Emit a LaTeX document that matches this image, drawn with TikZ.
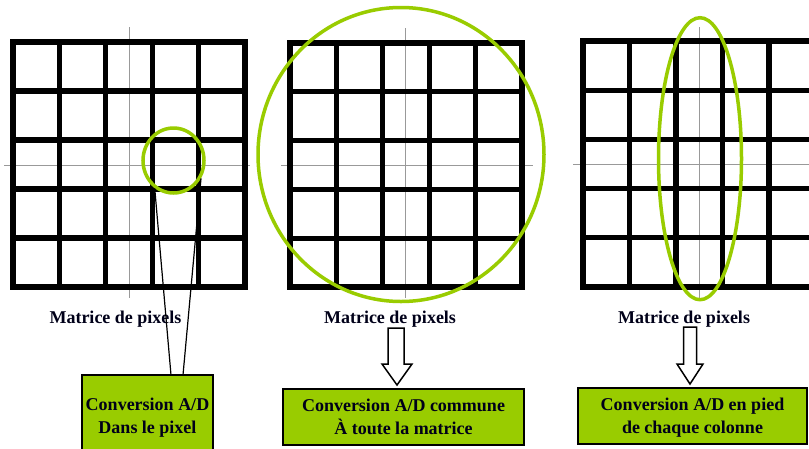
\documentclass[tikz,border=0pt]{standalone}
\usepackage{fontspec}
\setmainfont{Liberation Serif}
\usetikzlibrary{shapes.geometric,calc}
\definecolor{lime}{HTML}{99CC00}
\begin{document}
\begin{tikzpicture}[x=1pt,y=-1pt,
  gridline/.style={line width=5.3pt,line cap=rect},
  cross/.style={draw=black!40,line width=0.8pt},
  ring/.style={ellipse,draw=lime,line width=3.5pt,inner sep=0pt},
  lbl/.style={font=\bfseries\fontsize{18}{22}\selectfont,inner sep=0pt,text=black!90!blue},
  greenbox/.style={draw=black,line width=2pt,fill=lime,font=\bfseries\fontsize{18}{23}\selectfont,align=center,inner sep=0pt,text=black!90!blue},
  hollow/.style={draw=black,line width=1.5pt,fill=white,line join=miter},
  link/.style={draw=black,line width=1.2pt}]
\useasboundingbox (0,0) rectangle (809,448);
\clip (0,0) rectangle (809,448);
\fill[white] (0,0) rectangle (809,448);
% crosshairs
\draw[cross] (129,27) -- (129,298) (4,165) -- (250,165);
\draw[cross] (405.7,28) -- (405.7,298) (281,165) -- (533,165);
\draw[cross] (699,27) -- (699,300) (573,164) -- (809,164);
% grid 1
\foreach \i in {0,...,5} {
  \draw[gridline] ({13+46.4*\i},42) -- ({13+46.4*\i},287);
  \draw[gridline] (13,{42+49*\i}) -- (245,{42+49*\i});
}
% grid 2
\foreach \i in {0,...,5} {
  \draw[gridline] ({290+46.4*\i},43) -- ({290+46.4*\i},287);
  \draw[gridline] (290,{43+48.8*\i}) -- (522,{43+48.8*\i});
}
% grid 3
\foreach \i in {0,...,5} {
  \draw[gridline] ({583+46.5*\i},41) -- ({583+46.5*\i},287);
  \draw[gridline] (583,{41+49.2*\i}) -- (815.5,{41+49.2*\i});
}
% green rings
\node[ring,minimum width=61pt,minimum height=65pt] (c1) at (173.5,160.5) {};
\node[ring,minimum width=286pt,minimum height=294pt] (c2) at (401,154.5) {};
\node[ring,minimum width=83pt,minimum height=282pt] (c3) at (700,158.7) {};
% labels
\node[lbl,anchor=base] (m1) at (115.5,323) {Matrice de pixels};
\node[lbl,anchor=base] (m2) at (390,323) {Matrice de pixels};
\node[lbl,anchor=base] (m3) at (684,323.5) {Matrice de pixels};
% boxes
\node[greenbox,minimum width=131pt,minimum height=82pt] (b1) at (147.5,416) {Conversion A/D\\\smash{Dans le pixel}};
\node[greenbox,minimum width=241pt,minimum height=56pt] (b2) at (403.5,417) {Conversion A/D commune\\\smash{À toute la matrice}};
\node[greenbox,minimum width=229pt,minimum height=56pt] (b3) at (692.5,416) {Conversion A/D en pied\\\smash{de chaque colonne}};
% links from pixel ring to box 1
\coordinate (t1) at (171,375);
\coordinate (t2) at (183,375);
\draw[link] (c1.236) -- (t1);
\draw[link] (c1.327) -- (t2);
% hollow arrows
\draw[hollow] (388,328) -- (404,328) -- (404,364) -- (412,364) -- (397,385) -- (382,364) -- (388,364) -- cycle;
\draw[hollow] (683.5,327) -- (696.5,327) -- (696.5,364) -- (703,364) -- (690,384) -- (677,364) -- (683.5,364) -- cycle;
\end{tikzpicture}
\end{document}
